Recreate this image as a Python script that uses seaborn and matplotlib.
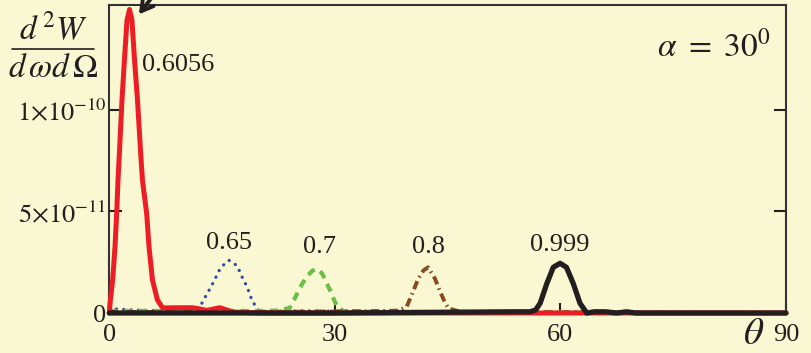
import matplotlib
matplotlib.use("Agg")
import matplotlib.pyplot as plt
import seaborn as sns
import pandas as pd
from matplotlib.lines import Line2D

# ---- data (values in units of 1e-11) ----
theta_red = [0.0, 0.1, 0.45, 0.76, 0.98, 1.16, 1.36, 1.69, 2.02, 2.35, 2.69, 3.02, 3.35, 3.75,
             4.15, 4.41, 4.97, 5.28, 5.74, 6.4, 7.1, 9.0, 11.1, 13.0, 14.7, 16.5, 20.0, 90.0]
val_red = [0.0, 0.49, 1.63, 3.27, 4.9, 6.55, 8.0, 10.5, 12.5, 14.4, 14.95, 14.4, 12.5, 10.5,
           8.0, 6.55, 4.9, 3.27, 1.63, 0.64, 0.25, 0.26, 0.26, 0.13, 0.26, 0.05, 0.0, 0.0]

theta_blue = [0, 1.0, 3.0, 6.0, 9.0, 11.0, 12.07, 12.73, 13.5, 14.15, 14.8, 15.9, 17.0, 17.7,
              18.35, 19.0, 19.9, 21.0, 25, 90]
val_blue = [0.1, 0.2, 0.15, 0.12, 0.15, 0.15, 0.31, 0.77, 1.27, 1.74, 2.23, 2.6, 2.33, 1.74,
            1.27, 0.6, 0.1, 0.08, 0.1, 0]

theta_green = [0, 10, 20, 22.5, 24.0, 24.9, 25.6, 26.25, 27.0, 27.6, 28.3, 29.35, 30.0, 30.45,
               31.5, 35, 90]
val_green = [0.1, 0.1, 0.1, 0.12, 0.25, 0.89, 1.4, 1.79, 2.08, 2.17, 1.95, 1.13, 0.55, 0.23,
             0.05, 0.05, 0]

theta_brown = [0, 20, 36.4, 38.5, 39.55, 40.4, 41.1, 41.8, 42.4, 43.3, 44.0, 44.6, 45.1, 46.5, 48, 90]
val_brown = [0.05, 0.05, 0.1, 0.12, 0.31, 1.05, 1.7, 2.1, 2.25, 1.7, 1.05, 0.55, 0.23, 0.08, 0.05, 0]

theta_black = [0, 30, 53.7, 55.95, 56.7, 57.3, 58.2, 59.05, 59.95, 60.8, 61.7, 62.6, 63.5, 64.5,
               66.0, 67.5, 68.8, 70.0, 90]
val_black = [0, 0, 0.06, 0.06, 0.15, 0.48, 1.46, 2.25, 2.45, 2.25, 1.46, 0.48, 0.0, 0.06,
             0.06, 0.0, 0.06, 0, 0]

series_labels = ["0.6056", "0.65", "0.7", "0.8", "0.999"]
ytick_vals = [0, 5, 10]
ytick_labels = ["0", r"$5{\times}10^{-11}$", r"$1{\times}10^{-10}$"]
xtick_vals = [0, 30, 60, 90]
xtick_labels = ["0", "30", "60", "90"]

# ---- style ----
BG = "#FAF8D2"
INK = "#231F20"
sns.set_theme(style="white")
plt.rcParams["font.family"] = ["Liberation Serif", "DejaVu Serif"]
plt.rcParams["mathtext.fontset"] = "stix"

fig = plt.figure(figsize=(8.12, 3.53), dpi=100, facecolor=BG)
ax = fig.add_axes([109.3 / 812, 1 - 313 / 353, (786 - 109.3) / 812, (313 - 5) / 353])
ax.set_facecolor(BG)

def draw(th, v, color, lw, ls, cap="butt"):
    df = pd.DataFrame({"theta": th, "value": v})
    sns.lineplot(data=df, x="theta", y="value", ax=ax, color=color, estimator=None,
                 sort=False, linewidth=lw)
    line = ax.get_lines()[-1]
    line.set_linestyle(ls)
    line.set_dash_capstyle(cap)
    line.set_solid_joinstyle("round")
    line.set_clip_on(False)
    line.set_zorder(3)

draw(theta_blue, val_blue, "#2B4DA6", 2.4, (0, (0.01, 2.2)), cap="round")
draw(theta_green, val_green, "#6DBE45", 3.0, (0, (2.0, 1.5)))
draw(theta_brown, val_brown, "#8A4A1E", 2.8, (0, (2.2, 1.1, 0.4, 1.1)))
draw(theta_red, val_red, "#EE1D25", 3.6, "-")
draw(theta_black, val_black, INK, 3.8, "-")

ax.set_xlim(0, 90)
ax.set_ylim(0, 15.17)
ax.set_xlabel("")
ax.set_ylabel("")

ax.set_xticks(xtick_vals)
ax.set_xticklabels(xtick_labels)
ax.set_yticks(ytick_vals)
ax.set_yticklabels(ytick_labels)
ax.tick_params(axis="both", direction="in", colors=INK, labelsize=19, width=1.5)
ax.tick_params(axis="y", length=9, pad=2, right=True, left=True)
ax.tick_params(axis="x", length=7, pad=8, bottom=True)
for s in ax.spines.values():
    s.set_color("#333333")
    s.set_linewidth(1.5)
    s.set_visible(True)
    s.set_zorder(2)

# annotations
fs = 19
ax.text(4.3, 12.2, series_labels[0], fontsize=fs, ha="left", va="center", color=INK)
ax.text(15.9, 3.45, series_labels[1], fontsize=fs, ha="center", va="center", color=INK)
ax.text(27.9, 3.25, series_labels[2], fontsize=fs, ha="center", va="center", color=INK)
ax.text(42.4, 3.25, series_labels[3], fontsize=fs, ha="center", va="center", color=INK)
ax.text(59.9, 3.35, series_labels[4], fontsize=fs, ha="center", va="center", color=INK)
ax.text(88.0, 13.1, r"$\alpha\ =\ 30^0$", fontsize=24, ha="right", va="center", color=INK)

ax.annotate("", xy=(3.7, 14.6), xytext=(6.4, 15.9),
            arrowprops=dict(arrowstyle="->,head_length=0.7,head_width=0.4", lw=2.8,
                            color=INK),
            annotation_clip=False)

fig.text(754 / 812, 1 - 334 / 353, r"$\theta$", fontsize=28, ha="center", va="center",
         color=INK)
# y-axis label as a fraction
fig.text(53 / 812, 1 - 30 / 353, r"$d^{\,2}W$", fontsize=24, ha="center", va="center", color=INK)
fig.text(53 / 812, 1 - 69 / 353, r"$d\,\omega d\,\Omega$", fontsize=24, ha="center", va="center",
         color=INK)
fig.add_artist(Line2D([12 / 812, 94 / 812], [1 - 49 / 353, 1 - 49 / 353], color=INK, lw=1.2))

fig.savefig("out.png", dpi=100, facecolor=BG)
